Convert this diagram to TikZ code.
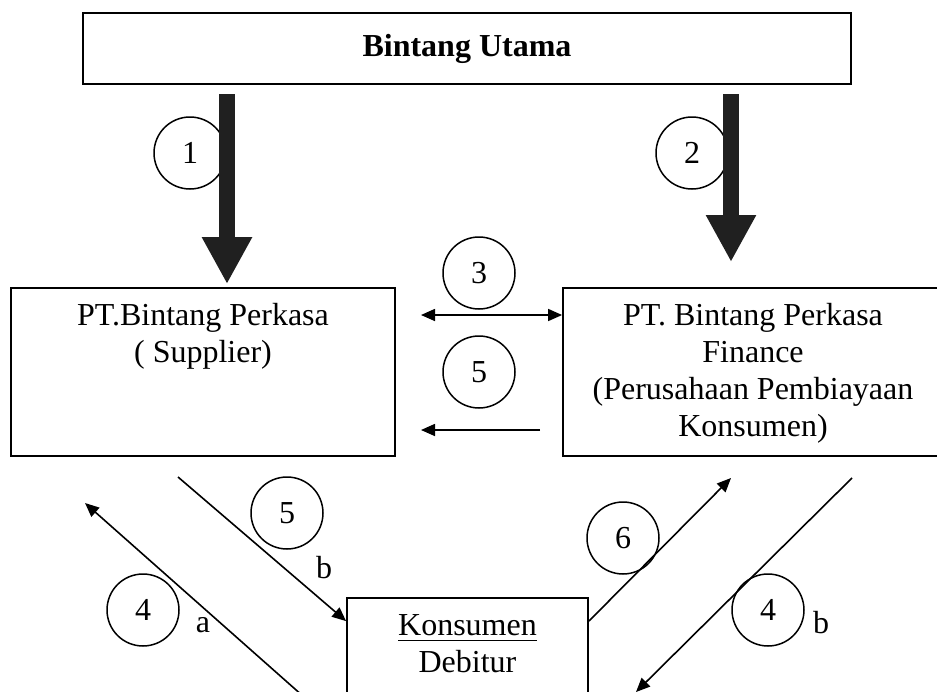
\documentclass[tikz,border=0pt]{standalone}
\usepackage{fontspec}
\setmainfont{Liberation Serif}
\usetikzlibrary{arrows.meta}
\usetikzlibrary{positioning}

\newcommand{\thickul}[1]{\setbox0\hbox{#1}\rlap{\rule[-6pt]{\wd0}{1.6pt}}\box0}

\tikzset{
	boxnode/.style={draw, line width=1.8pt, inner sep=0pt},
	txtnode/.style={inner sep=0pt, align=center, font=\fontsize{32}{37}\selectfont},
	numcirc/.style={draw, circle, line width=1.5pt, minimum size=72pt, inner sep=0pt, font=\fontsize{32}{37}\selectfont},
	bigarrow/.style={line width=16pt, draw=gray!25!black, -{Triangle[length=47pt,width=47pt]}},
	thinline/.style={line width=1.6pt, >={Triangle[length=14pt,width=12pt]}}
}

\begin{document}
\begin{tikzpicture}[x=1pt,y=-1pt]
	\useasboundingbox (0,0) rectangle (937,691);
	\clip (0,0) rectangle (937,691);
	%Boxes
	\node [boxnode, minimum width=768pt, minimum height=71pt, font=\fontsize{32}{37}\selectfont\bfseries] (utama) at (467,48.5) {Bintang Utama};
	\node [boxnode, minimum width=384pt, minimum height=168pt] (supplier) at (203,372) {};
	\node [txtnode, below=16pt of supplier.north] (supplierlbl) {PT.Bintang Perkasa\\( Supplier)};
	\node [boxnode, minimum width=380pt, minimum height=168pt] (finance) at (753,372) {};
	\node [txtnode, below=16pt of finance.north] (financelbl) {PT. Bintang Perkasa\\Finance\\(Perusahaan Pembiayaan\\Konsumen)};
	\node [boxnode, minimum width=241pt, minimum height=142pt] (konsumen) at (467.5,669) {};
	\node [txtnode, below=17pt of konsumen.north] (konsumenlbl) {\thickul{Konsumen}\\Debitur};
	%Numbers
	\node [numcirc] (n1) at (190,153) {1};
	\node [numcirc] (n2) at (692,153) {2};
	\node [numcirc] (n3) at (479,273) {3};
	\node [numcirc] (n5a) at (479,372) {5};
	\node [numcirc] (n5b) at (287,513) {5};
	\node [numcirc] (n4a) at (143,610) {4};
	\node [numcirc] (n6) at (623,538) {6};
	\node [numcirc] (n4b) at (768,610) {4};
	\node [txtnode] (la) at (203,625) {a};
	\node [txtnode] (lb1) at (324,568) {b};
	\node [txtnode] (lb2) at (821,623) {b};
	%Thick arrows
	\coordinate (a1top) at (227,94);
	\coordinate (a2top) at (731,94);
	\coordinate (a2tip) at (731,262);
	\draw [bigarrow] (a1top) to ([yshift=3pt]a1top |- supplier.north);
	\draw [bigarrow] (a2top) to (a2tip);
	%Arrows between the boxes
	\coordinate (a3l) at (421,315);
	\coordinate (a5s) at (540,430);
	\draw [thinline, <->] (a3l) to (a3l -| finance.west);
	\draw [thinline, ->] (a5s) to (a5s -| a3l);
	%Arrows to and from Konsumen
	\coordinate (a5bs) at (178,477);
	\coordinate (a4as) at (330,720);
	\coordinate (a4atip) at (85,503);
	\coordinate (a6tip) at (731,478);
	\coordinate (a4bs) at (852,478);
	\coordinate (a4btip) at (636,692);
	\draw [thinline, ->] (a5bs) to ([yshift=-24pt]konsumen.north west);
	\draw [thinline, ->] (a4as) to (a4atip);
	\draw [thinline, ->] ([yshift=-24pt]konsumen.north east) to (a6tip);
	\draw [thinline, ->] (a4bs) to (a4btip);
\end{tikzpicture}
\end{document}
